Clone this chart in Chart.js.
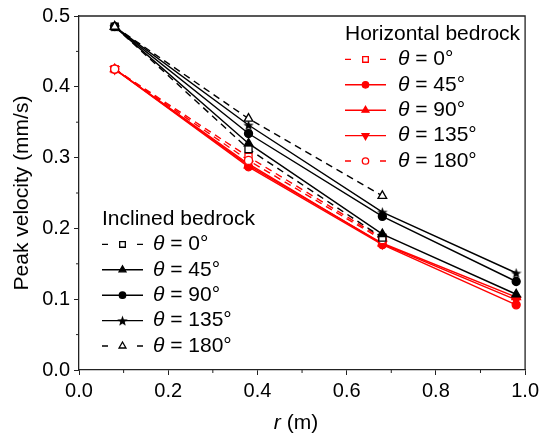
<!DOCTYPE html>
<html>
<head>
<title>Peak velocity</title>
<script src="https://cdn.jsdelivr.net/npm/chart.js"></script>
<style>
  body { margin: 0; background: #fff; }
</style>
</head>
<body>
<canvas id="chart" width="543" height="436"></canvas>
<script>
// distance from source, m
var radii = [0.08, 0.38, 0.68, 0.98];
var thetaLabels = ['0°', '45°', '90°', '135°', '180°'];

// peak velocity (mm/s), horizontal bedrock
var horizontal0 = [0.425, 0.301, 0.186];
var horizontal45 = [0.425, 0.287, 0.177, 0.092];
var horizontal90 = [0.425, 0.289, 0.179, 0.103];
var horizontal135 = [0.425, 0.291, 0.178, 0.099];
var horizontal180 = [0.425, 0.296, 0.184];

// peak velocity (mm/s), inclined bedrock
var inclined0 = [0.485, 0.312, 0.187];
var inclined45 = [0.485, 0.320, 0.192, 0.107];
var inclined90 = [0.485, 0.334, 0.217, 0.125];
var inclined135 = [0.485, 0.346, 0.223, 0.137];
var inclined180 = [0.485, 0.355, 0.246];

var xTicks = [0, 0.2, 0.4, 0.6, 0.8, 1.0];
var yTicks = [0, 0.1, 0.2, 0.3, 0.4, 0.5];

var FONT = '"Liberation Sans", Arial, sans-serif';
var RED = '#ff0000';
var BLACK = '#000000';

// filled five point star used as a marker
function makeStar(size, color) {
    var c = document.createElement('canvas');
    c.width = size; c.height = size;
    var g = c.getContext('2d');
    var cx = size / 2, cy = size / 2 + 0.6, ro = size / 2, ri = ro * 0.42;
    g.beginPath();
    for (var i = 0; i < 10; i++) {
        var r = i % 2 === 0 ? ro : ri;
        var a = -Math.PI / 2 + i * Math.PI / 5;
        g.lineTo(cx + r * Math.cos(a), cy + r * Math.sin(a));
    }
    g.closePath();
    g.fillStyle = color;
    g.fill();
    return c;
}
var starImg = makeStar(11, BLACK);

function pts(values) {
    return values.map(function (v, i) { return { x: radii[i], y: v }; });
}

function series(label, values, color, dashed, style, open, rotation, radius, order) {
    return {
        label: label,
        data: pts(values),
        order: order,
        borderColor: color,
        borderWidth: 1.4,
        borderDash: dashed ? [7, 5] : [],
        pointStyle: style,
        pointRotation: rotation || 0,
        pointRadius: radius || 4.5,
        pointBorderWidth: 1.3,
        pointBorderColor: color,
        pointBackgroundColor: open ? '#ffffff' : color,
        fill: false,
        tension: 0
    };
}

// lower order is drawn last, so the 180° markers sit on top as in the figure
var datasets = [
    series(thetaLabels[0], horizontal0, RED, true, 'rect', true, 0, 5, 9),
    series(thetaLabels[1], horizontal45, RED, false, 'circle', false, 0, 4, 8),
    series(thetaLabels[2], horizontal90, RED, false, 'triangle', false, 0, 5, 7),
    series(thetaLabels[3], horizontal135, RED, false, 'triangle', false, 180, 5, 6),
    series(thetaLabels[4], horizontal180, RED, true, 'circle', true, 0, 4, 5),
    series(thetaLabels[0], inclined0, BLACK, true, 'rect', true, 0, 5, 4),
    series(thetaLabels[1], inclined45, BLACK, false, 'triangle', false, 0, 5, 3),
    series(thetaLabels[2], inclined90, BLACK, false, 'circle', false, 0, 4, 2),
    series(thetaLabels[3], inclined135, BLACK, false, starImg, false, 0, 5, 1),
    series(thetaLabels[4], inclined180, BLACK, true, 'triangle', true, 0, 5, 0)
];

function drawLegend(ctx, chart, title, first, x, y0, step, textX) {
    ctx.save();
    ctx.fillStyle = '#000';
    ctx.textBaseline = 'middle';
    ctx.textAlign = 'left';
    ctx.font = '21px ' + FONT;
    ctx.fillText(title, x, y0);
    for (var k = 0; k < 5; k++) {
        var ds = chart.data.datasets[first + k];
        var y = y0 + (k + 1) * step;
        ctx.strokeStyle = ds.borderColor;
        ctx.lineWidth = ds.borderWidth;
        ctx.beginPath();
        if (ds.borderDash.length) {
            ctx.moveTo(x, y); ctx.lineTo(x + 6, y);
            ctx.moveTo(x + 35, y); ctx.lineTo(x + 41, y);
        } else {
            ctx.moveTo(x, y); ctx.lineTo(x + 41, y);
        }
        ctx.stroke();
        ctx.fillStyle = ds.pointBackgroundColor;
        ctx.strokeStyle = ds.pointBorderColor;
        ctx.lineWidth = ds.pointBorderWidth;
        Chart.helpers.drawPoint(ctx, {
            pointStyle: ds.pointStyle,
            rotation: ds.pointRotation,
            radius: ds.pointRadius * 0.8,
            borderWidth: ds.pointBorderWidth
        }, x + 20.5, y);
        ctx.fillStyle = '#000';
        ctx.font = 'italic 21px ' + FONT;
        ctx.fillText('θ', textX, y);
        var w = ctx.measureText('θ').width;
        ctx.font = '21px ' + FONT;
        ctx.fillText(' = ' + ds.label, textX + w, y);
    }
    ctx.restore();
}

var decorations = {
    id: 'decorations',
    afterDraw: function (chart) {
        var ctx = chart.ctx, a = chart.chartArea;
        var xs = chart.scales.x, ys = chart.scales.y;
        ctx.save();
        ctx.strokeStyle = '#222';
        ctx.lineWidth = 1.3;
        // top and right frame
        ctx.beginPath();
        ctx.moveTo(a.left, a.top); ctx.lineTo(a.right, a.top); ctx.lineTo(a.right, a.bottom);
        ctx.stroke();
        // minor ticks
        ctx.lineWidth = 1;
        ctx.beginPath();
        for (var v = 0.1; v < 1; v += 0.2) {
            var px = xs.getPixelForValue(v);
            ctx.moveTo(px, a.bottom); ctx.lineTo(px, a.bottom + 3);
        }
        for (var u = 0.05; u < 0.5; u += 0.1) {
            var py = ys.getPixelForValue(u);
            ctx.moveTo(a.left, py); ctx.lineTo(a.left - 3, py);
        }
        ctx.stroke();
        // axis titles
        ctx.fillStyle = '#000';
        ctx.textBaseline = 'middle';
        ctx.font = 'italic 21px ' + FONT;
        var wr = ctx.measureText('r').width;
        ctx.font = '21px ' + FONT;
        var wm = ctx.measureText(' (m)').width;
        var sx = 296 - (wr + wm) / 2;
        ctx.textAlign = 'left';
        ctx.font = 'italic 21px ' + FONT;
        ctx.fillText('r', sx, 423);
        ctx.font = '21px ' + FONT;
        ctx.fillText(' (m)', sx + wr, 423);
        ctx.save();
        ctx.translate(22, (a.top + a.bottom) / 2);
        ctx.rotate(-Math.PI / 2);
        ctx.textAlign = 'center';
        ctx.fillText('Peak velocity (mm/s)', 0, 0);
        ctx.restore();
        ctx.restore();
        drawLegend(ctx, chart, 'Horizontal bedrock', 0, 345, 34, 25.4, 398);
        drawLegend(ctx, chart, 'Inclined bedrock', 5, 102, 219, 25.4, 153);
    }
};

var ctx = document.getElementById('chart').getContext('2d');
var chart = new Chart(ctx, {
    type: 'line',
    data: { datasets: datasets },
    options: {
        responsive: false,
        animation: false,
        layout: { padding: { left: 0, top: 14, right: 16, bottom: 0 } },
        plugins: { legend: { display: false }, tooltip: { enabled: false } },
        scales: {
            x: {
                type: 'linear',
                min: 0, max: 1,
                afterBuildTicks: function (s) { s.ticks = xTicks.map(function (v) { return { value: v }; }); },
                afterFit: function (s) { s.height = 66; },
                ticks: {
                    padding: 4,
                    color: '#000',
                    font: { family: FONT, size: 20 },
                    callback: function (v) { return v.toFixed(1); }
                },
                grid: { drawOnChartArea: false, tickLength: 5, color: '#222', tickWidth: 1 },
                border: { color: '#222', width: 1.3 }
            },
            y: {
                type: 'linear',
                min: 0, max: 0.5,
                afterBuildTicks: function (s) { s.ticks = yTicks.map(function (v) { return { value: v }; }); },
                afterFit: function (s) { s.width = 79; },
                ticks: {
                    padding: 4,
                    color: '#000',
                    font: { family: FONT, size: 20 },
                    callback: function (v) { return v.toFixed(1); }
                },
                grid: { drawOnChartArea: false, tickLength: 5, color: '#222', tickWidth: 1 },
                border: { color: '#222', width: 1.3 }
            }
        }
    },
    plugins: [decorations]
});
</script>
</body>
</html>
